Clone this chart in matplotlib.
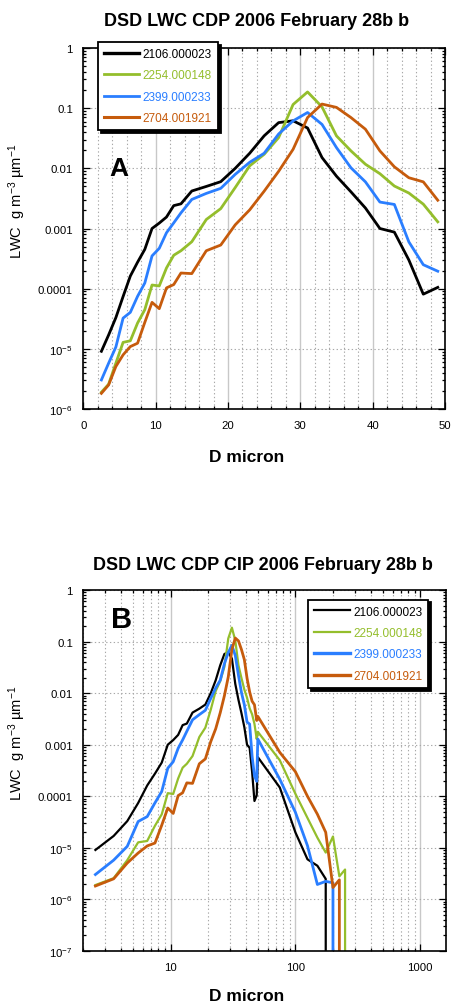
import matplotlib
matplotlib.use('Agg')
import matplotlib.pyplot as plt
import numpy as np
from matplotlib.ticker import FixedLocator, FixedFormatter, LogLocator, MultipleLocator, NullFormatter

plt.rcParams['font.family'] = ['Liberation Sans', 'DejaVu Sans']
plt.rcParams['mathtext.fontset'] = 'custom'
plt.rcParams['mathtext.rm'] = 'Liberation Sans'
plt.rcParams['mathtext.it'] = 'Liberation Sans:italic'
plt.rcParams['mathtext.bf'] = 'Liberation Sans:bold'

# ---------------- data ----------------
labels = ['2106.000023', '2254.000148', '2399.000233', '2704.001921']
colors = ['#000000', '#94be2c', '#2a7eff', '#c65b0c']

# CDP bin centres (micron)
d_cdp = [2.5, 3.5, 4.5, 5.5, 6.5, 7.5, 8.5, 9.5, 10.5, 11.5, 12.5, 13.5,
         15, 17, 19, 21, 23, 25, 27, 29, 31, 33, 35, 37, 39, 41, 43, 45, 47, 49]
# CIP sizes (micron)
d_cip = [50, 75, 100, 125, 150, 175, 200, 225, 250, 275]

lwc_cdp_2106 = [9.1e-6, 1.7e-5, 3.3e-5, 7.4e-5, 1.62e-4, 2.75e-4, 4.5e-4, 1.0e-3, 1.23e-3, 1.55e-3,
                2.4e-3, 2.57e-3, 4.2e-3, 5.0e-3, 6.0e-3, 1.0e-2, 1.78e-2, 3.47e-2, 5.75e-2, 6.17e-2,
                4.68e-2, 1.51e-2, 7.4e-3, 4.07e-3, 2.19e-3, 1.0e-3, 8.7e-4, 3.0e-4, 8.1e-5, 1.05e-4]
lwc_cdp_2254 = [1.9e-6, 2.58e-6, 5.77e-6, 1.28e-5, 1.36e-5, 2.68e-5, 4.47e-5, 1.15e-4, 1.11e-4, 2.21e-4,
                3.59e-4, 4.27e-4, 6.03e-4, 1.41e-3, 2.14e-3, 4.79e-3, 1.1e-2, 1.71e-2, 3.24e-2, 1.15e-1,
                1.86e-1, 1.05e-1, 3.46e-2, 1.95e-2, 1.17e-2, 8.15e-3, 5.08e-3, 3.89e-3, 2.54e-3, 1.29e-3]
lwc_cdp_2399 = [3.04e-6, 5.77e-6, 1.07e-5, 3.24e-5, 4.04e-5, 7.45e-5, 1.24e-4, 3.5e-4, 4.68e-4, 8.5e-4,
                1.24e-3, 1.82e-3, 3.04e-3, 3.83e-3, 4.65e-3, 7.94e-3, 1.26e-2, 1.78e-2, 3.72e-2, 6.15e-2,
                8.47e-2, 5.37e-2, 2.21e-2, 1.02e-2, 5.96e-3, 2.75e-3, 2.51e-3, 6.0e-4, 2.5e-4, 1.95e-4]
lwc_cdp_2704 = [1.82e-6, 2.51e-6, 5.08e-6, 7.94e-6, 1.09e-5, 1.24e-5, 2.75e-5, 5.92e-5, 4.65e-5, 1.03e-4,
                1.17e-4, 1.82e-4, 1.78e-4, 4.27e-4, 5.31e-4, 1.15e-3, 2.04e-3, 4.17e-3, 8.91e-3, 2.07e-2,
                6.98e-2, 1.17e-1, 1.03e-1, 6.98e-2, 4.47e-2, 1.95e-2, 1.06e-2, 6.98e-3, 5.96e-3, 2.95e-3]

lwc_cip_2106 = [5.75e-4, 1.48e-4, 2.0e-5, 6.0e-6, 4.5e-6, 2.5e-6, 0, 0, 0, 0]
lwc_cip_2254 = [1.78e-3, 5.0e-4, 1.12e-4, 3.8e-5, 1.58e-5, 8.1e-6, 1.66e-5, 2.8e-6, 3.8e-6, 0]
lwc_cip_2399 = [1.29e-3, 2.14e-4, 4.9e-5, 1.1e-5, 1.95e-6, 2.24e-6, 2.1e-6, 0, 0, 0]
lwc_cip_2704 = [3.55e-3, 7.1e-4, 3.0e-4, 1.0e-4, 4.5e-5, 2.0e-5, 1.7e-6, 2.4e-6, 0, 0]

cdp_series = [lwc_cdp_2106, lwc_cdp_2254, lwc_cdp_2399, lwc_cdp_2704]
cip_series = [lwc_cip_2106, lwc_cip_2254, lwc_cip_2399, lwc_cip_2704]

W, H = 452, 1004
fig = plt.figure(figsize=(W / 100, H / 100), dpi=100)

axA = fig.add_axes([83.3 / W, 1 - 410 / H, 361.7 / W, 361 / H])
axB = fig.add_axes([83.3 / W, 1 - 952 / H, 362.4 / W, 361 / H])

grid_major = dict(color='#c8c8c8', ls='-', lw=1.0)
grid_minor = dict(color='#a8a8a8', ls=(0, (1.2, 2.2)), lw=0.8)


def style_axis(ax):
    ax.set_axisbelow(True)
    for s in ax.spines.values():
        s.set_linewidth(1.2)
    ax.tick_params(which='both', direction='in', top=True, right=True, width=0.9, labelsize=8.2)
    ax.tick_params(which='major', length=5)
    ax.tick_params(which='minor', length=2.5)
    ax.tick_params(axis='x', pad=8)
    ax.tick_params(axis='y', pad=7.5)


def legend(ax, loc, anchor, lws):
    shadow = {'facecolor': 'black', 'edgecolor': 'black', 'alpha': 1.0}
    leg = ax.legend(loc=loc, bbox_to_anchor=anchor, borderaxespad=0, fontsize=8.5,
                    handlelength=3.0, handletextpad=0.3, labelspacing=0.8, borderpad=0.5,
                    fancybox=False, framealpha=1, edgecolor='black', shadow=shadow,
                    labelcolor='linecolor')
    leg.get_frame().set_linewidth(1.3)
    for h, lw in zip(leg.get_lines(), lws):
        h.set_linewidth(lw)
    return leg


# ---------------- panel A ----------------
for y, c, lab in zip(cdp_series, colors, labels):
    axA.plot(d_cdp, y, color=c, lw=2.0, label=lab)
axA.set_yscale('log')
axA.set_xlim(0, 50)
axA.set_ylim(1e-6, 1)
axA.xaxis.set_major_locator(MultipleLocator(10))
axA.xaxis.set_minor_locator(MultipleLocator(2))
ydec = [1, 0.1, 0.01, 0.001, 1e-4, 1e-5, 1e-6]
ylabA = ['1', '0.1', '0.01', '0.001', '0.0001', r'$10^{-5}$', r'$10^{-6}$']
axA.yaxis.set_major_locator(FixedLocator(ydec))
axA.yaxis.set_major_formatter(FixedFormatter(ylabA))
axA.yaxis.set_minor_locator(LogLocator(base=10, subs=np.arange(2, 10), numticks=30))
axA.yaxis.set_minor_formatter(NullFormatter())
axA.xaxis.grid(True, which='major', **grid_major)
axA.xaxis.grid(True, which='minor', **grid_minor)
axA.yaxis.grid(True, which='major', **grid_minor)
style_axis(axA)
legend(axA, 'upper left', ((98 - 83.3) / 361.7, (410 - 43) / 361), [2.4, 2.0, 2.0, 2.2])
axA.text((119 - 83.3) / 361.7, (410 - 169) / 361, 'A', transform=axA.transAxes,
         fontsize=19, fontweight='bold', ha='center', va='center')

# ---------------- panel B ----------------
lwB = [1.6, 1.6, 2.0, 2.0]
for yc, yp, c, lab, lw in zip(cdp_series, cip_series, colors, labels, lwB):
    axB.plot(list(d_cdp) + list(d_cip), list(yc) + list(yp), color=c, lw=lw, label=lab)
axB.set_xscale('log')
axB.set_yscale('log', nonpositive='clip')
axB.set_xlim(2, 1600)
axB.set_ylim(1e-7, 1)
axB.xaxis.set_major_locator(FixedLocator([10, 100, 1000]))
axB.xaxis.set_major_formatter(FixedFormatter(['10', '100', '1000']))
axB.xaxis.set_minor_locator(LogLocator(base=10, subs=np.arange(2, 10), numticks=30))
axB.xaxis.set_minor_formatter(NullFormatter())
ydecB = ydec + [1e-7]
ylabB = ylabA + [r'$10^{-7}$']
axB.yaxis.set_major_locator(FixedLocator(ydecB))
axB.yaxis.set_major_formatter(FixedFormatter(ylabB))
axB.yaxis.set_minor_locator(LogLocator(base=10, subs=np.arange(2, 10), numticks=30))
axB.yaxis.set_minor_formatter(NullFormatter())
axB.xaxis.grid(True, which='major', **grid_major)
axB.xaxis.grid(True, which='minor', **grid_minor)
axB.yaxis.grid(True, which='major', **grid_minor)
style_axis(axB)
legend(axB, 'upper right', ((428.3 - 83.3) / 362.4, (952 - 600.7) / 361), [1.6, 1.6, 2.4, 2.4])
axB.text((122 - 83.3) / 362.4, (952 - 620) / 361, 'B', transform=axB.transAxes,
         fontsize=21, fontweight='bold', ha='center', va='center')

# ---------------- titles & labels ----------------
fig.text(256.5 / W, 1 - 22 / H, 'DSD LWC CDP 2006 February 28b b', fontsize=13,
         fontweight='bold', ha='center', va='center')
fig.text(263 / W, 1 - 566 / H, 'DSD LWC CDP CIP 2006 February 28b b', fontsize=13,
         fontweight='bold', ha='center', va='center')
fig.text(246.5 / W, 1 - 457 / H, 'D micron', fontsize=12.5, fontweight='bold', ha='center', va='center')
fig.text(246.5 / W, 1 - 997 / H, 'D micron', fontsize=12.5, fontweight='bold', ha='center', va='center')
ylab = 'LWC  g m$^{-3}$ µm$^{-1}$'
fig.text(17 / W, 1 - 201 / H, ylab, fontsize=10.5, rotation=90, ha='center', va='center')
fig.text(17 / W, 1 - 743 / H, ylab, fontsize=10.5, rotation=90, ha='center', va='center')

fig.savefig('out.png', dpi=100)
